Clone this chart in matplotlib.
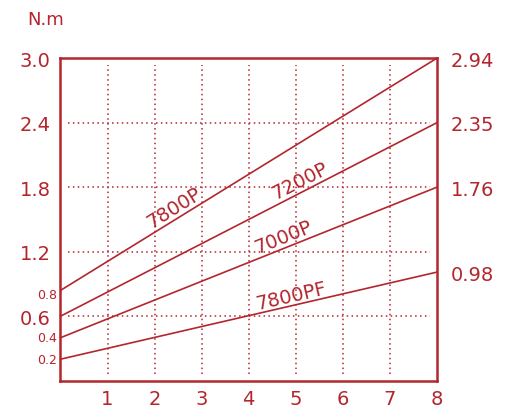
import matplotlib.pyplot as plt

RED = "#b3262e"

# motor torque curves, N.m vs x (0..8)
x = [0, 8]
series = {
    "7800P": [0.84, 3.0],
    "7200P": [0.6, 2.4],
    "7000P": [0.4, 1.8],
    "7800PF": [0.2, 1.01],
}
# label position (x, y) and angle
labels = {
    "7800P": (2.42, 1.61, 32),
    "7200P": (5.1, 1.86, 27),
    "7000P": (4.73, 1.34, 22),
    "7800PF": (4.9, 0.79, 13),
}

x_ticks = [1, 2, 3, 4, 5, 6, 7, 8]
y_major = [0.6, 1.2, 1.8, 2.4, 3.0]
y_minor = [0.2, 0.4, 0.8]
right_ticks = [1.01, 1.8, 2.4, 3.0]
right_labels = ["0.98", "1.76", "2.35", "2.94"]

plt.rcParams["font.family"] = ["DejaVu Sans"]

fig = plt.figure(figsize=(5.17, 4.14), dpi=100)
ax = fig.add_axes([0.117, 0.078, 0.728, 0.779])
ax.set_xlim(0, 8)
ax.set_ylim(0, 3.0)

# dotted grid
for gx in x_ticks[:-1]:
    ax.plot([gx, gx], [0.06, 2.94], color=RED, lw=1.1, ls=(0, (1, 2.2)))
for gy in y_major[:-1]:
    ax.plot([0.15, 7.85], [gy, gy], color=RED, lw=1.1, ls=(0, (1, 2.2)))

for name, yv in series.items():
    ax.plot(x, yv, color=RED, lw=1.2, clip_on=False)
    lx, ly, ang = labels[name]
    ax.text(lx, ly, name, color=RED, fontsize=14, rotation=ang,
            ha="center", va="center")

for s in ax.spines.values():
    s.set_color(RED)
    s.set_linewidth(1.8)

ax.set_xticks(x_ticks)
ax.set_xticklabels([str(t) for t in x_ticks])
ax.set_yticks(y_major)
ax.set_yticklabels([f"{t:.1f}" for t in y_major])
ax.tick_params(length=0, colors=RED, labelsize=14, pad=6)
ax.tick_params(axis="y", pad=7)

for t in y_minor:
    ax.text(-0.08, t, f"{t:.1f}", color=RED, fontsize=9,
            ha="right", va="center", transform=ax.transData)

ax2 = ax.twinx()
ax2.set_ylim(0, 3.0)
ax2.set_yticks(right_ticks)
ax2.set_yticklabels(right_labels)
ax2.tick_params(length=0, colors=RED, labelsize=14, pad=10)
for s in ax2.spines.values():
    s.set_visible(False)

fig.text(46 / 517, 1 - 20 / 414, "N.m", color=RED, fontsize=13,
         ha="center", va="center")

fig.savefig("out.png", dpi=100)
